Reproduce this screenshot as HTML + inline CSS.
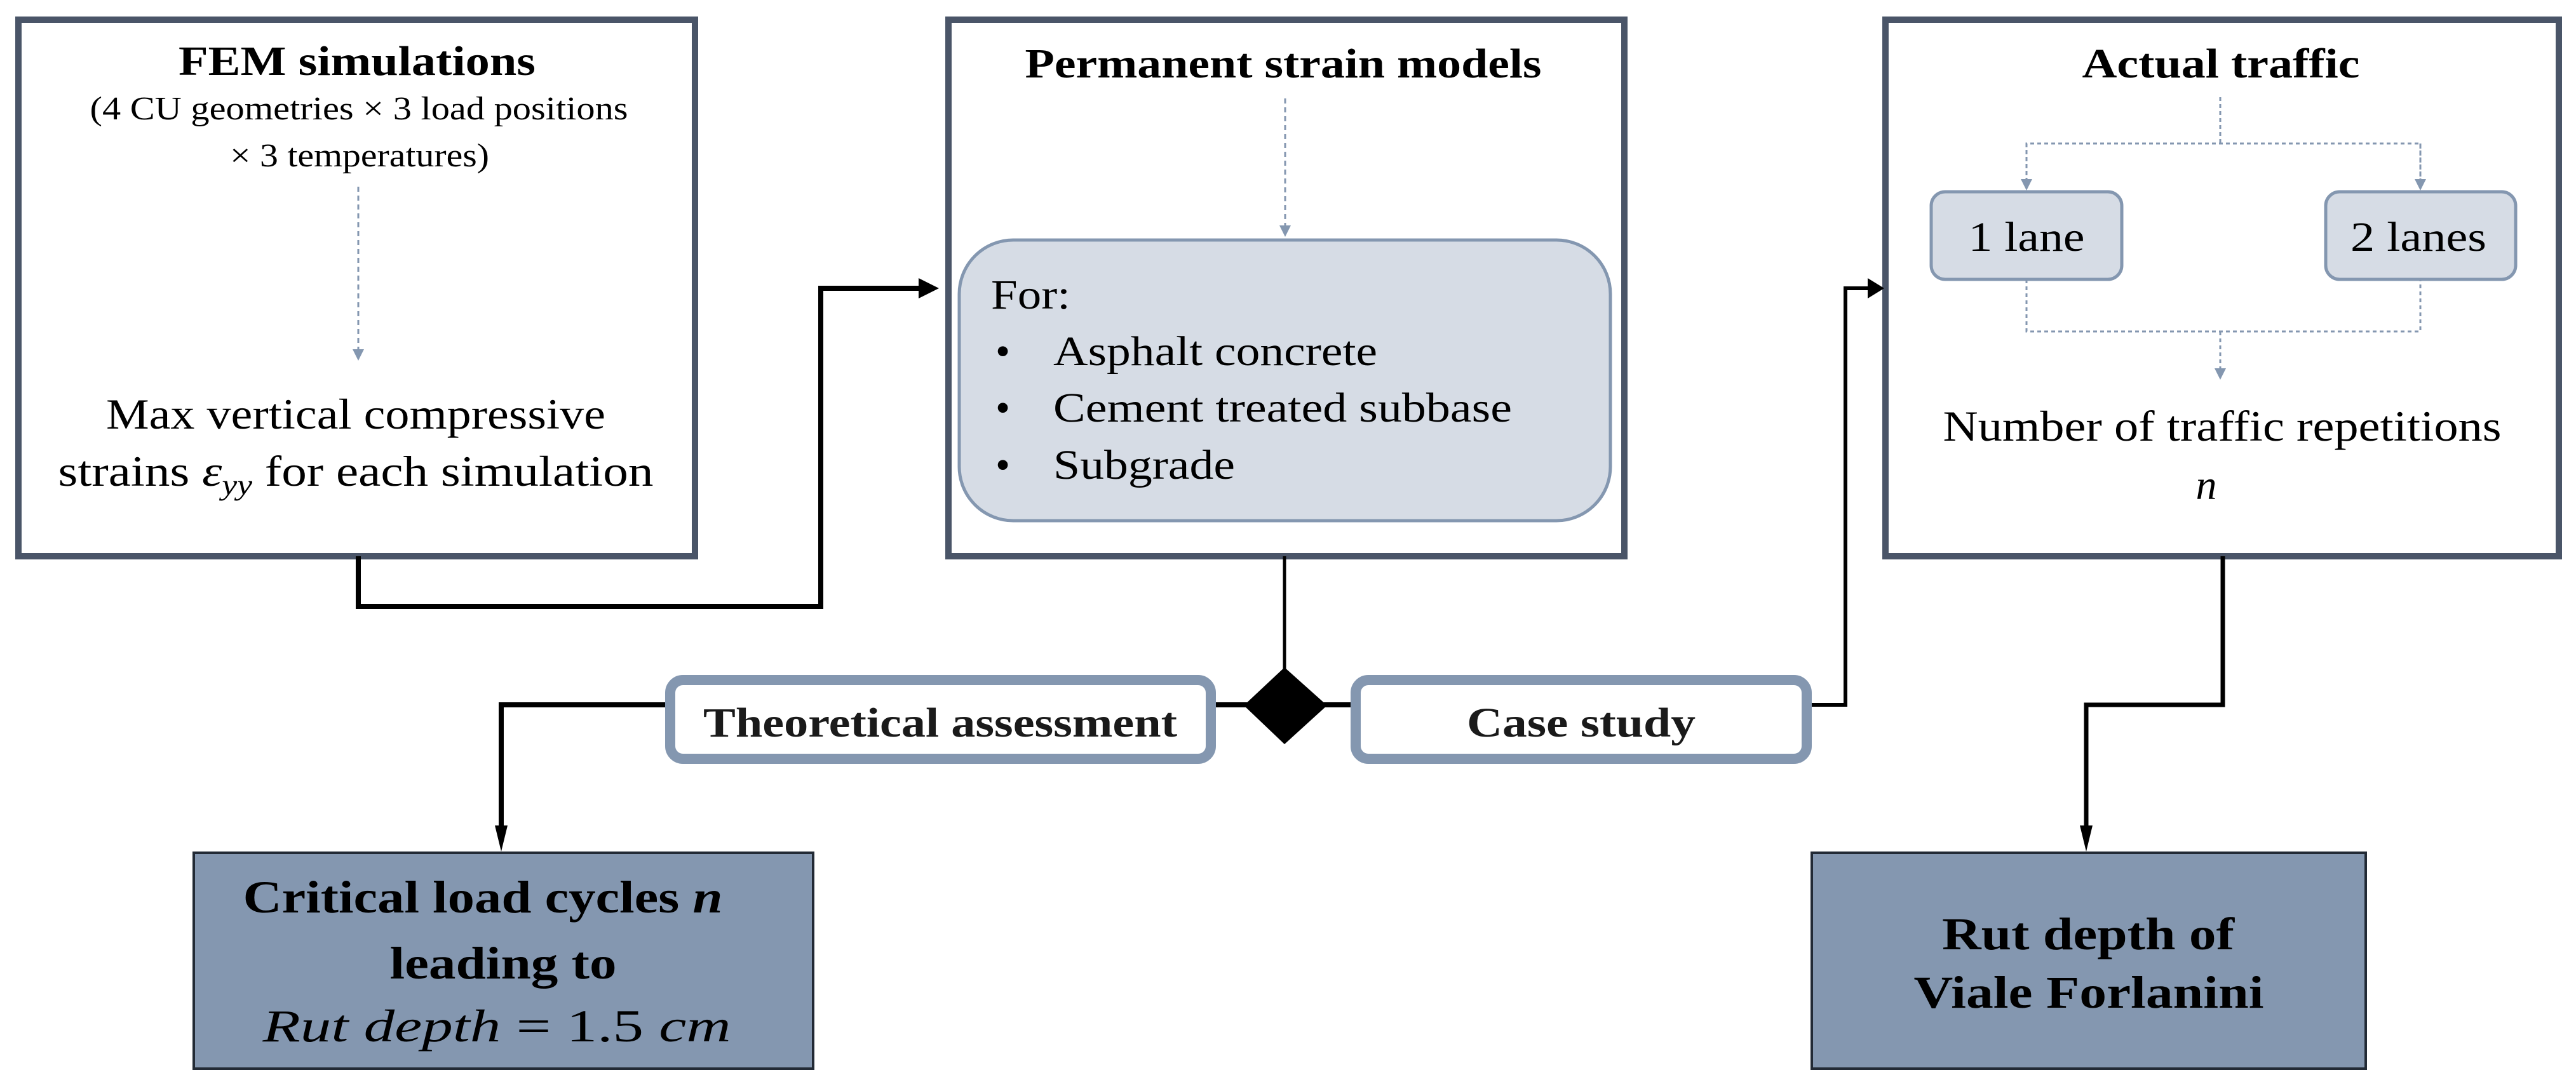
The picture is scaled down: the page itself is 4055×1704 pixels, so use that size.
<!DOCTYPE html>
<html><head><meta charset="utf-8"><style>html,body{margin:0;padding:0;background:#fff}svg{display:block}</style></head>
<body>
<svg width="4055" height="1704" viewBox="0 0 4055 1704" xmlns="http://www.w3.org/2000/svg" font-family="Liberation Serif, serif">
<defs>
<marker id="ah" markerWidth="4" markerHeight="4" refX="3" refY="2" orient="auto" markerUnits="strokeWidth"><path d="M0,0 L4,2 L0,4 z" fill="#000"/></marker>
<marker id="dh" markerWidth="6" markerHeight="6" refX="5" refY="3" orient="auto" markerUnits="strokeWidth"><path d="M0,0 L6,3 L0,6 z" fill="#8497b0"/></marker>
</defs>
<rect x="29" y="31" width="1065" height="845" fill="#fff" stroke="#4a5568" stroke-width="10"/>
<rect x="1493" y="31" width="1064" height="845" fill="#fff" stroke="#4a5568" stroke-width="10"/>
<rect x="2968" y="31" width="1060" height="845" fill="#fff" stroke="#4a5568" stroke-width="10"/>

<text x="562" y="118" font-size="66" font-weight="bold" text-anchor="middle" textLength="562" lengthAdjust="spacingAndGlyphs">FEM simulations</text>
<text x="565" y="188" font-size="52" text-anchor="middle" textLength="847" lengthAdjust="spacingAndGlyphs">(4 CU geometries  × 3 load positions</text>
<text x="566" y="262" font-size="52" text-anchor="middle" textLength="408" lengthAdjust="spacingAndGlyphs">× 3 temperatures)</text>
<line x1="564" y1="294" x2="564" y2="565" stroke="#8497b0" stroke-width="3" stroke-dasharray="8,6" marker-end="url(#dh)"/>
<text x="560" y="675" font-size="68" text-anchor="middle" textLength="786" lengthAdjust="spacingAndGlyphs">Max vertical compressive</text>
<text x="560" y="765" font-size="68" text-anchor="middle" textLength="937" lengthAdjust="spacingAndGlyphs">strains <tspan font-style="italic">ε</tspan><tspan font-style="italic" font-size="46" dy="14">yy</tspan><tspan dy="-14"> for each simulation</tspan></text>

<text x="2020" y="122" font-size="66" font-weight="bold" text-anchor="middle" textLength="813" lengthAdjust="spacingAndGlyphs">Permanent strain models</text>
<line x1="2023" y1="155" x2="2023" y2="370" stroke="#8497b0" stroke-width="3" stroke-dasharray="8,6" marker-end="url(#dh)"/>
<rect x="1510" y="378" width="1025" height="442" rx="85" fill="#d6dce5" stroke="#8497b0" stroke-width="5"/>
<text x="1560" y="486" font-size="66" textLength="125" lengthAdjust="spacingAndGlyphs">For:</text>
<g font-size="66">
<text x="1567" y="575">•</text><text x="1658" y="575" textLength="510" lengthAdjust="spacingAndGlyphs">Asphalt concrete</text>
<text x="1567" y="664">•</text><text x="1658" y="664" textLength="722" lengthAdjust="spacingAndGlyphs">Cement treated subbase</text>
<text x="1567" y="754">•</text><text x="1658" y="754" textLength="286" lengthAdjust="spacingAndGlyphs">Subgrade</text>
</g>

<text x="3496" y="122" font-size="66" font-weight="bold" text-anchor="middle" textLength="437" lengthAdjust="spacingAndGlyphs">Actual traffic</text>
<g stroke="#8497b0" stroke-width="3" stroke-dasharray="6,5" fill="none">
<line x1="3495" y1="153" x2="3495" y2="226"/>
<polyline points="3190,297 3190,226 3810,226 3810,297"/>
<polyline points="3190,440 3190,522 3810,522 3810,440"/>
<line x1="3495" y1="522" x2="3495" y2="595" marker-end="url(#dh)"/>
<line x1="3190" y1="226" x2="3190" y2="297" marker-end="url(#dh)"/>
<line x1="3810" y1="226" x2="3810" y2="297" marker-end="url(#dh)"/>
</g>
<rect x="3040" y="302" width="300" height="138" rx="22" fill="#d6dce5" stroke="#8497b0" stroke-width="5"/>
<rect x="3661" y="302" width="299" height="138" rx="22" fill="#d6dce5" stroke="#8497b0" stroke-width="5"/>
<text x="3190" y="395" font-size="66" text-anchor="middle" textLength="183" lengthAdjust="spacingAndGlyphs">1 lane</text>
<text x="3807" y="395" font-size="66" text-anchor="middle" textLength="214" lengthAdjust="spacingAndGlyphs">2 lanes</text>
<text x="3498" y="694" font-size="68" text-anchor="middle" textLength="879" lengthAdjust="spacingAndGlyphs">Number of traffic repetitions</text>
<text x="3473" y="786" font-size="66" font-style="italic" text-anchor="middle">n</text>

<polyline points="564,876 564,955 1292,955 1292,454 1470,454" fill="none" stroke="#000" stroke-width="8" marker-end="url(#ah)"/>
<line x1="2022" y1="876" x2="2022" y2="1060" stroke="#000" stroke-width="5"/>
<polygon points="2022,1051 2089,1111 2022,1172 1958,1111" fill="#000"/>
<line x1="1908" y1="1110" x2="2126" y2="1110" stroke="#000" stroke-width="8"/>
<polyline points="1047,1110 789,1110 789,1320" fill="none" stroke="#000" stroke-width="8"/>
<polygon points="779,1300 799,1300 789,1341" fill="#000"/>
<polyline points="2852,1110 2905,1110 2905,454 2945,454" fill="none" stroke="#000" stroke-width="6"/>
<polygon points="2940,438 2966,454 2940,470" fill="#000"/>
<polyline points="3499,876 3499,1110 3284,1110 3284,1320" fill="none" stroke="#000" stroke-width="7"/>
<polygon points="3274,1300 3294,1300 3284,1341" fill="#000"/>

<rect x="1055" y="1071" width="851" height="124" rx="20" fill="#fff" stroke="#8497b0" stroke-width="16"/>
<rect x="2134" y="1071" width="710" height="124" rx="20" fill="#fff" stroke="#8497b0" stroke-width="16"/>
<text x="1480" y="1160" font-size="66" font-weight="bold" text-anchor="middle" fill="#1a1a1a" textLength="746" lengthAdjust="spacingAndGlyphs">Theoretical assessment</text>
<text x="2489" y="1160" font-size="66" font-weight="bold" text-anchor="middle" fill="#1a1a1a" textLength="360" lengthAdjust="spacingAndGlyphs">Case study</text>

<rect x="305" y="1343" width="975" height="340" fill="#8497b0" stroke="#222a35" stroke-width="4"/>
<rect x="2852" y="1343" width="872" height="340" fill="#8497b0" stroke="#222a35" stroke-width="4"/>
<text x="760" y="1437" font-size="72" font-weight="bold" text-anchor="middle" textLength="755" lengthAdjust="spacingAndGlyphs">Critical load cycles <tspan font-style="italic">n</tspan></text>
<text x="792" y="1541" font-size="72" font-weight="bold" text-anchor="middle" textLength="357" lengthAdjust="spacingAndGlyphs">leading to</text>
<text x="782" y="1640" font-size="72" font-style="italic" text-anchor="middle" textLength="737" lengthAdjust="spacingAndGlyphs">Rut depth <tspan font-style="normal">= 1.5</tspan> cm</text>
<text x="3287" y="1495" font-size="72" font-weight="bold" text-anchor="middle" textLength="460" lengthAdjust="spacingAndGlyphs">Rut depth of</text>
<text x="3288" y="1587" font-size="72" font-weight="bold" text-anchor="middle" textLength="551" lengthAdjust="spacingAndGlyphs">Viale Forlanini</text>
</svg>
</body></html>
